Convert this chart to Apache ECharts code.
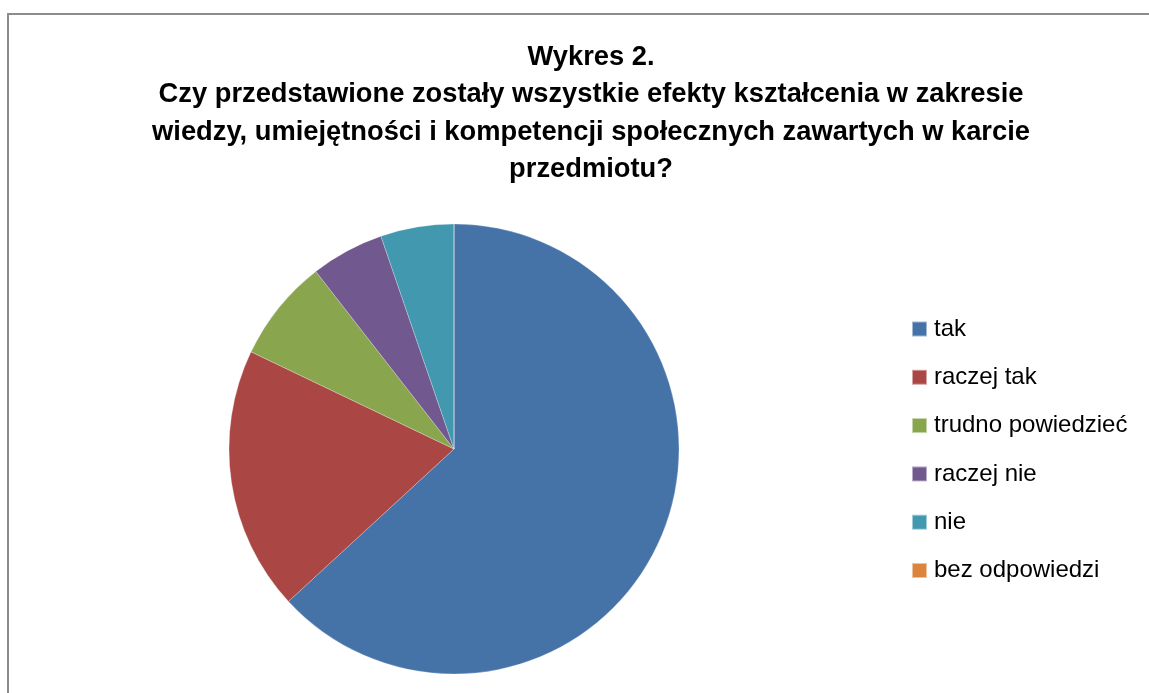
<!DOCTYPE html>
<html>
<head>
<meta charset="utf-8">
<script src="https://cdn.jsdelivr.net/npm/echarts@6/dist/echarts.min.js"></script>
<style>
html,body{margin:0;padding:0;background:#fff;}
#chart{width:1149px;height:693px;}
</style>
</head>
<body>
<div id="chart"></div>
<script>
const titleLines = [
  'Wykres 2.',
  'Czy przedstawione zostały wszystkie efekty kształcenia w zakresie',
  'wiedzy, umiejętności i kompetencji społecznych zawartych w karcie',
  'przedmiotu?'
];
const categories = ['tak', 'raczej tak', 'trudno powiedzieć', 'raczej nie', 'nie', 'bez odpowiedzi'];
const values = [60, 18, 7, 5, 5, 0];
const colors = ['#4572A7', '#AA4643', '#89A54E', '#71588F', '#4198AF', '#DB843D'];

const chart = echarts.init(document.getElementById('chart'), null, {renderer: 'canvas'});
const font = "'Liberation Sans', sans-serif";
chart.setOption({
  animation: false,
  backgroundColor: '#fff',
  color: colors,
  graphic: [{
    type: 'rect',
    shape: {x: 8, y: 14, width: 1160, height: 720},
    style: {fill: 'none', stroke: '#8c8c8c', lineWidth: 2},
    silent: true
  }],
  title: {
    text: titleLines.join('\n'),
    left: 586,
    top: 34,
    textAlign: 'center',
    textStyle: {
      fontFamily: font,
      fontWeight: 'bold',
      fontSize: 27.3,
      lineHeight: 37.3,
      color: '#000'
    }
  },
  legend: {
    orient: 'vertical',
    left: 911,
    top: 317,
    padding: 0,
    itemWidth: 15,
    itemHeight: 15,
    itemGap: 24.3,
    icon: 'rect',
    data: categories,
    textStyle: {
      fontFamily: font,
      fontSize: 24,
      lineHeight: 24,
      color: '#000',
      padding: [0, 0, 0, 2]
    }
  },
  series: [{
    type: 'pie',
    center: [454, 449],
    radius: 225,
    startAngle: 90,
    clockwise: true,
    label: {show: false},
    labelLine: {show: false},
    emphasis: {disabled: true},
    itemStyle: {borderColor: 'rgba(255,255,255,0.5)', borderWidth: 0.5},
    data: categories.map((c, i) => ({name: c, value: values[i]}))
  }]
});
</script>
</body>
</html>
